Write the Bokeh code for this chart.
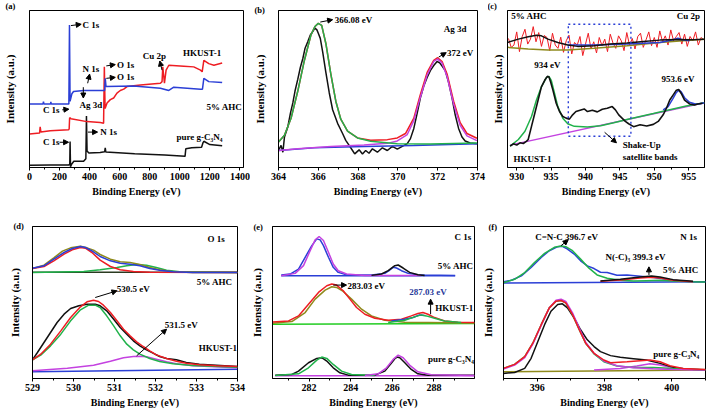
from bokeh.plotting import figure
from bokeh.layouts import row, column
from bokeh.models import FixedTicker, Arrow, NormalHead, Label
from bokeh.embed import file_html
from bokeh.resources import INLINE

FONT = "Liberation Serif"
RED = "#ee1d23"
BLUE = "#2b3fd6"
GREEN = "#21b24b"
MAGENTA = "#c442e0"
OLIVE = "#8f8a1c"
BLACK = "#111111"
LW = 1.5

# ---------------- (a) survey ----------------
A_TICKS = [0, 200, 400, 600, 800, 1000, 1200, 1400]
A_MINOR = [100, 300, 500, 700, 900, 1100, 1300]
A_G_X = [0, 138, 262, 268, 270, 273, 280, 295, 360, 375, 379, 383, 395, 470, 500, 504, 508, 700, 900, 1035, 1040, 1080, 1145, 1155, 1160, 1200, 1282]
A_G_Y = [7, 8, 8, 10, 79, 2, 10, 19, 19, 27, 157, 50, 44, 46, 48, 60, 47, 42, 38, 34, 57, 60, 62, 76, 80, 70, 66]
A_A_X = [0, 90, 93, 96, 140, 142, 145, 262, 266, 270, 282, 293, 360, 500, 504, 509, 693, 871, 927, 960, 1138, 1151, 1160, 1193, 1282]
A_A_Y = [194, 194, 201, 194, 194, 200, 194, 194, 435, 202, 225, 232, 235, 235, 272, 247, 249, 242, 235, 245, 239, 239, 272, 262, 259]
A_H_X = [0, 67, 71, 76, 138, 260, 264, 267, 276, 382, 471, 493, 498, 503, 516, 538, 560, 582, 604, 627, 649, 738, 871, 882, 887, 898, 909, 927, 1027, 1093, 1138, 1149, 1160, 1193, 1227, 1282]
A_H_Y = [102, 105, 124, 108, 112, 115, 118, 152, 149, 140, 137, 135, 307, 180, 197, 207, 212, 227, 235, 239, 247, 252, 257, 262, 307, 257, 297, 312, 309, 307, 297, 292, 327, 317, 312, 319]

# ---------------- (b) Ag 3d ----------------
B_TICKS = [364, 366, 368, 370, 372, 374]
B_MINOR = [365, 367, 369, 371, 373]
B_D_X = [364.00, 364.13, 364.22, 364.30, 364.47, 364.60, 364.72, 364.83, 364.97, 365.10, 365.22, 365.33, 365.47, 365.60, 365.72, 365.83, 365.93, 366.00, 366.10, 366.22, 366.38, 366.55, 366.72, 366.97, 367.22, 367.38, 367.55, 367.72, 367.83, 368.05, 368.22, 368.38, 368.55, 368.72, 368.97, 369.22, 369.47, 369.72, 369.97, 370.22, 370.47, 370.63, 370.80, 370.97, 371.13, 371.30, 371.47, 371.63, 371.80, 371.97, 372.10, 372.23, 372.38, 372.55, 372.72, 372.88, 373.05, 373.22, 373.38, 373.63, 373.97]
B_D_Y = [50, 65, 45, 90, 120, 160, 190, 225, 260, 295, 320, 350, 370, 390, 400, 410, 405, 395, 380, 340, 280, 220, 170, 130, 100, 80, 65, 50, 40, 52, 40, 50, 42, 55, 45, 58, 50, 62, 54, 62, 70, 85, 115, 160, 205, 240, 265, 285, 300, 312, 308, 298, 285, 250, 205, 155, 115, 90, 78, 72, 70]
B_G_X = [364.00, 364.30, 364.63, 364.97, 365.30, 365.63, 365.83, 366.00, 366.17, 366.38, 366.63, 366.88, 367.13, 367.47, 367.97, 368.63, 369.97, 371.63, 373.97]
B_G_Y = [75, 95, 145, 225, 315, 390, 415, 424, 418, 365, 275, 195, 142, 107, 87, 77, 70, 69, 72]
B_R_X = [364.00, 364.30, 364.63, 364.97, 365.30, 365.63, 365.83, 366.00, 366.17, 366.38, 366.63, 366.88, 367.13, 367.47, 367.97, 368.63, 369.47, 369.97, 370.38, 370.80, 371.13, 371.47, 371.80, 372.00, 372.22, 372.47, 372.80, 373.13, 373.47, 373.97]
B_R_Y = [75, 95, 145, 225, 315, 390, 415, 424, 418, 365, 275, 195, 142, 107, 87, 80, 82, 87, 100, 145, 215, 280, 315, 323, 312, 275, 195, 132, 100, 86]
B_M_X = [364.00, 364.97, 366.63, 368.30, 369.47, 369.97, 370.47, 370.80, 371.13, 371.47, 371.80, 372.00, 372.22, 372.47, 372.80, 373.13, 373.47, 373.97]
B_M_Y = [50, 55, 62, 66, 71, 78, 97, 138, 207, 272, 312, 319, 307, 268, 187, 124, 93, 79]
B_B_X = [364.0, 365.8, 368.3, 370.8, 374.0]
B_B_Y = [50, 58, 62, 65, 70]

# ---------------- (c) Cu 2p ----------------
C_TICKS = [930, 935, 940, 945, 950, 955]
C_MINOR = [932.5, 937.5, 942.5, 947.5, 952.5]
C_A_X = [928.8, 929.2, 929.6, 930.0, 930.4, 930.8, 931.2, 931.6, 932.0, 932.4, 932.8, 933.2, 933.6, 934.0, 934.4, 934.8, 935.2, 935.6, 936.0, 936.4, 936.8, 937.2, 937.6, 938.0, 938.4, 938.8, 939.2, 939.6, 940.0, 940.4, 940.8, 941.2, 941.6, 942.0, 942.4, 942.8, 943.2, 943.6, 944.0, 944.4, 944.8, 945.2, 945.6, 946.0, 946.4, 946.8, 947.2, 947.6, 948.0, 948.4, 948.8, 949.2, 949.6, 950.0, 950.4, 950.8, 951.2, 951.6, 952.0, 952.4, 952.8, 953.2, 953.6, 954.0, 954.4, 954.8, 955.2, 955.6, 956.0, 956.4, 956.8, 957.2]
C_A_Y = [392, 365, 372, 412, 352, 398, 420, 375, 390, 428, 382, 410, 368, 401, 395, 355, 408, 372, 362, 396, 350, 385, 402, 345, 380, 372, 398, 340, 375, 408, 360, 382, 348, 395, 370, 390, 352, 405, 378, 362, 400, 385, 355, 410, 372, 392, 360, 398, 408, 365, 388, 412, 370, 395, 365, 415, 382, 400, 372, 418, 385, 398, 410, 375, 405, 368, 398, 385, 412, 372, 395, 388]
C_AF_X = [928.66, 930.24, 931.67, 932.87, 933.59, 934.55, 935.98, 937.42, 938.85, 941.24, 943.64, 946.03, 948.42, 950.81, 953.21, 955.60, 957.27]
C_AF_Y = [380, 390, 397, 402, 400, 390, 380, 372, 368, 370, 375, 378, 383, 387, 389, 388, 390]
C_AB_X = [937.42, 941.24, 946.03, 950.81, 952.73, 953.44, 954.07, 955.12]
C_AB_Y = [372, 372, 375, 380, 388, 393, 388, 385]
C_AO_X = [928.66, 931.67, 934.55, 937.42, 941.24, 946.03, 950.81, 955.60, 957.27]
C_AO_Y = [365, 360, 357, 357, 362, 370, 380, 387, 390]
C_H_X = [929.04, 929.52, 930.00, 930.48, 930.96, 931.44, 931.67, 932.15, 932.63, 933.11, 933.59, 934.07, 934.45, 934.69, 934.93, 935.26, 935.74, 936.22, 936.70, 937.18, 937.66, 938.13, 938.61, 939.33, 939.81, 940.29, 941.00, 941.72, 942.44, 943.16, 943.88, 944.35, 944.83, 945.31, 945.79, 946.27, 946.99, 947.94, 948.90, 949.86, 950.57, 951.29, 951.77, 952.25, 952.73, 953.21, 953.54, 953.92, 954.40, 955.12, 955.84, 956.32, 957.03]
C_H_Y = [65, 72, 68, 75, 73, 80, 85, 125, 165, 205, 245, 265, 277, 275, 260, 235, 195, 170, 155, 150, 147, 160, 170, 175, 178, 170, 174, 169, 177, 180, 185, 175, 160, 150, 140, 133, 124, 130, 126, 131, 140, 160, 180, 205, 220, 235, 237, 225, 205, 193, 190, 193, 195]
C_HG_X = [929.04, 930.24, 931.20, 932.15, 932.87, 933.59, 934.31, 934.69, 935.02, 935.50, 935.98, 936.70, 937.42, 938.37, 940.29, 942.20, 944.11, 946.03, 947.94, 949.86, 951.29, 952.73, 954.64, 957.27]
C_HG_Y = [65, 85, 110, 155, 205, 245, 273, 277, 265, 225, 185, 150, 133, 125, 123, 127, 136, 146, 155, 164, 171, 178, 187, 197]
C_HM_X = [929.04, 957.27]
C_HM_Y = [68, 197]
C_HB_X = [951.29, 952.01, 952.73, 953.21, 953.59, 953.92, 954.40, 955.12, 956.08, 957.27]
C_HB_Y = [175, 185, 210, 228, 235, 230, 212, 198, 192, 196]

# ---------------- (d) O 1s ----------------
D_TICKS = [529, 530, 531, 532, 533, 534]
D_MINOR = [529.5, 530.5, 531.5, 532.5, 533.5]
D_AB_X = [529.00, 529.28, 529.52, 529.77, 529.97, 530.17, 530.29, 530.45, 530.65, 530.90, 531.14, 531.38, 531.62, 531.86, 532.10, 532.43, 532.91, 534.00]
D_AB_Y = [331, 338, 358, 378, 390, 396, 393, 383, 366, 353, 346, 343, 338, 330, 325, 320, 318, 318]
D_AD_X = [529.00, 529.28, 529.52, 529.73, 529.93, 530.17, 530.33, 530.49, 530.65, 530.90, 531.14, 531.38, 531.62, 531.86, 532.10, 532.43, 532.91, 534.00]
D_AD_Y = [330, 340, 362, 382, 392, 397, 392, 385, 372, 358, 350, 348, 342, 333, 326, 320, 318, 318]
D_AR_X = [529.00, 529.28, 529.52, 529.77, 529.97, 530.17, 530.29, 530.45, 530.65, 530.90, 531.14, 531.46, 531.86, 534.00]
D_AR_Y = [330, 336, 353, 373, 386, 393, 391, 378, 355, 336, 326, 321, 319, 318]
D_AG_X = [529.00, 530.25, 530.65, 531.06, 531.30, 531.54, 531.78, 532.02, 532.27, 532.59, 534.00]
D_AG_Y = [318, 321, 326, 333, 338, 342, 340, 333, 325, 320, 318]
D_AK_X = [529.0, 534.0]
D_AK_Y = [319, 319]
D_H_X = [529.00, 529.12, 529.28, 529.44, 529.60, 529.77, 529.93, 530.13, 530.33, 530.53, 530.65, 530.81, 530.98, 531.14, 531.30, 531.46, 531.62, 531.78, 531.94, 532.10, 532.27, 532.51, 532.75, 533.07, 533.48, 534.00]
D_H_Y = [56, 78, 108, 138, 168, 193, 210, 218, 223, 223, 218, 203, 178, 153, 133, 113, 98, 86, 76, 66, 60, 56, 48, 43, 40, 36]
D_HR_X = [529.00, 529.20, 529.44, 529.69, 529.93, 530.17, 530.33, 530.49, 530.61, 530.73, 530.90, 531.06, 531.22, 531.38, 531.54, 531.70, 531.86, 532.02, 532.27, 532.51, 532.75, 533.07, 533.48, 534.00]
D_HR_Y = [56, 73, 103, 143, 183, 215, 230, 235, 231, 220, 198, 173, 148, 128, 110, 96, 83, 71, 60, 52, 46, 41, 38, 36]
D_HG_X = [529.00, 529.20, 529.44, 529.69, 529.93, 530.17, 530.37, 530.53, 530.65, 530.81, 530.98, 531.14, 531.30, 531.46, 531.62, 531.86, 532.10, 532.43, 532.91, 534.00]
D_HG_Y = [56, 70, 98, 133, 173, 206, 220, 220, 213, 188, 158, 128, 103, 86, 73, 60, 51, 44, 39, 34]
D_HM_X = [529.00, 529.85, 530.49, 530.90, 531.22, 531.46, 531.62, 531.78, 532.02, 532.27, 532.51, 532.91, 534.00]
D_HM_Y = [23, 31, 40, 52, 62, 66, 67, 65, 58, 50, 44, 38, 32]
D_HB_X = [529.0, 534.0]
D_HB_Y = [20, 28]

# ---------------- (e) C 1s ----------------
E_TICKS = [282, 284, 286, 288]
E_MINOR = [281, 283, 285, 287, 289]
E_AB_X = [280.66, 281.09, 281.49, 281.81, 282.13, 282.37, 282.53, 282.69, 282.93, 283.16, 283.40, 283.80, 285.00, 285.64, 285.88, 286.04, 286.20, 286.44, 286.76, 287.23, 287.55, 289.02]
E_AB_Y = [309, 312, 327, 362, 397, 417, 414, 397, 362, 332, 317, 310, 309, 314, 324, 332, 330, 322, 314, 310, 309, 308]
E_AM_X = [280.66, 281.33, 281.73, 282.05, 282.29, 282.48, 282.69, 282.93, 283.16, 283.40, 283.80, 284.68, 287.39]
E_AM_Y = [307, 314, 337, 382, 414, 424, 412, 377, 342, 322, 312, 308, 308]
E_AK_X = [285.00, 285.48, 285.80, 286.12, 286.28, 286.52, 286.83, 287.23, 287.55]
E_AK_Y = [308, 312, 322, 337, 339, 330, 317, 310, 308]
E_A0_X = [280.66, 289.02]
E_A0_Y = [307, 307]
E_HR_X = [280.24, 281.01, 281.49, 281.97, 282.45, 282.85, 283.09, 283.32, 283.64, 283.96, 284.28, 284.68, 285.16, 285.80, 286.44, 286.91, 287.23, 287.47, 287.71, 288.03, 288.51, 289.15, 289.95]
E_HR_Y = [169, 172, 187, 222, 257, 277, 282, 279, 262, 237, 212, 192, 180, 174, 177, 187, 194, 197, 192, 182, 172, 168, 167]
E_HO_X = [280.24, 281.17, 281.81, 282.29, 282.77, 283.09, 283.32, 283.64, 284.04, 284.52, 285.00, 285.64, 286.60, 289.95]
E_HO_Y = [165, 170, 197, 237, 264, 274, 272, 260, 237, 207, 187, 174, 168, 166]
E_H0_X = [280.24, 289.95]
E_H0_Y = [162, 164]
E_HB_X = [285.96, 286.60, 287.00, 287.31, 287.55]
E_HB_Y = [172, 177, 182, 190, 188]
E_HG_X = [285.80, 286.60, 287.07, 287.39, 287.63, 288.03, 288.51, 289.31]
E_HG_Y = [167, 174, 184, 190, 187, 180, 172, 167]
E_PK_X = [280.37, 281.17, 281.49, 281.97, 282.37, 282.61, 282.85, 283.16, 283.48, 283.88, 285.16, 285.64, 285.93, 286.12, 286.23, 286.36, 286.60, 286.91, 287.23, 287.71, 289.95]
E_PK_Y = [10, 12, 22, 47, 60, 62, 52, 32, 17, 10, 10, 22, 44, 59, 64, 62, 47, 27, 14, 10, 10]
E_PG_X = [280.37, 281.49, 281.97, 282.37, 282.61, 282.85, 283.16, 283.56, 284.04, 285.16]
E_PG_Y = [9, 14, 32, 55, 64, 60, 42, 22, 12, 9]
E_PM_X = [284.68, 285.32, 285.72, 286.04, 286.28, 286.52, 286.83, 287.23, 287.87, 289.95]
E_PM_Y = [9, 14, 32, 57, 70, 62, 40, 20, 11, 9]
E_P0_X = [280.37, 289.95]
E_P0_Y = [8, 8]

# ---------------- (f) N 1s ----------------
F_TICKS = [396, 398, 400]
F_MINOR = [395, 397, 399, 401]
F_AB_X = [395.00, 395.24, 395.53, 395.82, 396.12, 396.36, 396.61, 396.75, 396.90, 397.10, 397.29, 397.49, 397.69, 397.88, 398.08, 398.37, 398.67, 399.06, 399.45, 399.84, 400.24, 400.63, 401.00]
F_AB_Y = [288, 292, 305, 330, 360, 380, 392, 393, 385, 370, 350, 335, 327, 316, 315, 307, 308, 304, 300, 295, 290, 288, 288]
F_AG_X = [395.00, 395.33, 395.63, 395.92, 396.22, 396.51, 396.71, 396.85, 397.05, 397.29, 397.54, 397.78, 398.08, 398.47, 398.86, 399.25, 399.65, 400.04, 400.63, 401.00]
F_AG_Y = [285, 295, 315, 345, 372, 390, 394, 392, 380, 355, 328, 308, 298, 292, 290, 291, 292, 290, 288, 287]
F_AK_X = [397.88, 398.47, 399.06, 399.40, 399.65, 400.04, 400.63]
F_AK_Y = [290, 295, 302, 305, 302, 294, 289]
F_AR_Y = [289, 293, 299, 301, 299, 292, 288]
F_A0_X = [395.0, 401.0]
F_A0_Y = [284, 288]
F_PK_X = [395.00, 395.33, 395.63, 395.82, 396.02, 396.22, 396.41, 396.61, 396.75, 396.90, 397.10, 397.29, 397.49, 397.69, 397.88, 398.18, 398.47, 398.86, 399.25, 399.65, 400.04, 400.43, 401.00]
F_PK_Y = [15, 18, 30, 60, 110, 160, 200, 220, 222, 210, 180, 145, 115, 95, 80, 68, 63, 59, 55, 45, 33, 28, 25]
F_PG_X = [395.00, 395.33, 395.63, 395.87, 396.12, 396.36, 396.56, 396.71, 396.85, 397.05, 397.25, 397.44, 397.69, 397.98, 398.37, 398.86, 399.45, 400.04, 401.00]
F_PG_Y = [30, 42, 65, 105, 160, 210, 230, 232, 225, 190, 145, 105, 73, 50, 37, 33, 33, 30, 26]
F_PM_Y = [28, 40, 62, 102, 158, 210, 233, 236, 229, 195, 150, 108, 75, 52, 38, 32, 29, 27, 25]
F_PR_X = [395.00, 395.33, 395.63, 395.87, 396.12, 396.36, 396.56, 396.71, 396.85, 397.05, 397.25, 397.44, 397.69, 397.98, 398.18, 398.67, 399.06, 399.35, 399.65, 399.94, 400.33, 401.00]
F_PR_Y = [30, 42, 65, 105, 160, 210, 230, 232, 225, 190, 145, 105, 75, 55, 47, 50, 53, 55, 50, 38, 30, 27]
F_PM2_X = [397.69, 398.47, 398.96, 399.35, 399.65, 400.04, 400.63]
F_PM2_Y = [25, 30, 37, 44, 40, 32, 26]
F_P0_X = [395.0, 401.0]
F_P0_Y = [20, 25]


def make_fig(w, h, xr, yr, ticks, minor, bl, br, bt, bb, ystand):
    p = figure(width=w, height=h, x_range=xr, y_range=yr, output_backend="svg",
               toolbar_location=None, min_border_left=bl, min_border_right=br,
               min_border_top=bt, min_border_bottom=bb)
    p.grid.visible = False
    p.background_fill_color = "white"
    p.border_fill_color = "white"
    p.outline_line_color = "black"
    p.outline_line_alpha = 1.0
    p.outline_line_width = 1
    xa = p.xaxis[0]
    xa.ticker = FixedTicker(ticks=ticks, minor_ticks=minor)
    xa.axis_label = "Binding Energy (eV)"
    xa.axis_label_text_font = FONT
    xa.axis_label_text_font_style = "bold"
    xa.axis_label_text_font_size = "10px"
    xa.axis_label_text_color = "black"
    xa.axis_label_standoff = 3
    xa.major_label_text_font = FONT
    xa.major_label_text_font_style = "bold"
    xa.major_label_text_font_size = "10px"
    xa.major_label_text_color = "black"
    xa.major_label_standoff = 2
    xa.major_tick_in = 0
    xa.major_tick_out = 3
    xa.minor_tick_in = 0
    xa.minor_tick_out = 2
    xa.axis_line_color = "black"
    ya = p.yaxis[0]
    ya.ticker = FixedTicker(ticks=[])
    ya.axis_label = "Intensity (a.u.)"
    ya.axis_label_text_font = FONT
    ya.axis_label_text_font_style = "bold"
    ya.axis_label_text_font_size = "11px"
    ya.axis_label_text_color = "black"
    ya.axis_label_standoff = ystand
    ya.major_tick_in = 0
    ya.major_tick_out = 0
    ya.minor_tick_in = 0
    ya.minor_tick_out = 0
    ya.major_label_standoff = 0
    ya.axis_line_color = "black"
    return p


def ln(p, xs, ys, color, w=LW):
    p.line(xs, ys, line_color=color, line_width=w)


def txt(p, x, y, s, align="left", color="black", size="9px"):
    p.add_layout(Label(x=x, y=y, text=s, text_align=align, text_baseline="middle",
                       text_font=FONT, text_font_style="bold", text_font_size=size,
                       text_color=color))


def panel_label(p, s, dx, dy=0):
    # label placed in the "above" side panel so it is not clipped to the frame
    p.add_layout(Label(x=dx, y=dy, x_units="screen", y_units="screen", text=s,
                       text_align="left", text_baseline="middle",
                       text_font=FONT, text_font_style="bold", text_font_size="8.5px",
                       text_color="black"), "above")


def arr(p, x0, y0, x1, y1):
    p.add_layout(Arrow(end=NormalHead(size=5, fill_color="black", line_color="black", line_width=1),
                       x_start=x0, y_start=y0, x_end=x1, y_end=y1,
                       line_color="black", line_width=1))


# ---- (a)
pa = make_fig(250, 205, (0, 1424), (0, 479), A_TICKS, A_MINOR, 29, 7, 4, 38, 14)
ln(pa, A_G_X, A_G_Y, BLACK)
ln(pa, A_H_X, A_H_Y, RED)
ln(pa, A_A_X, A_A_Y, BLUE)
panel_label(pa, "(a)", -24, 5)
txt(pa, 353, 435, "C 1s")
arr(pa, 276, 433, 344, 437)
txt(pa, 409, 299, "N 1s", align="center")
arr(pa, 387, 257, 400, 285)
txt(pa, 409, 192, "Ag 3d", align="center")
arr(pa, 358, 245, 358, 212)
txt(pa, 582, 314, "O 1s")
arr(pa, 511, 310, 571, 314)
txt(pa, 582, 275, "O 1s")
arr(pa, 511, 272, 571, 275)
txt(pa, 831, 339, "Cu 2p", align="center")
arr(pa, 882, 297, 867, 325)
txt(pa, 1149, 349, "HKUST-1", align="center")
txt(pa, 1415, 185, "5% AHC", align="right")
txt(pa, 89, 175, "C 1s")
arr(pa, 218, 176, 262, 178)
txt(pa, 471, 107, "N 1s")
arr(pa, 389, 108, 453, 108)
txt(pa, 89, 77, "C 1s")
arr(pa, 200, 77, 260, 77)
txt(pa, 1131, 92, "pure g-C\u2083N\u2084", align="center")

# ---- (b)
pb = make_fig(238, 205, (364, 374), (0, 462), B_TICKS, B_MINOR, 27, 11, 4, 38, 13)
ln(pb, B_D_X, B_D_Y, BLACK)
ln(pb, B_B_X, B_B_Y, BLUE)
ln(pb, B_R_X, B_R_Y, RED)
ln(pb, B_M_X, B_M_Y, MAGENTA)
ln(pb, B_G_X, B_G_Y, GREEN)
panel_label(pb, "(b)", -24, 1)
txt(pb, 366.83, 435, "366.08 eV")
arr(pb, 366.10, 428, 366.72, 435)
txt(pb, 372.88, 408, "Ag 3d", align="center")
txt(pb, 372.47, 338, "372 eV")
arr(pb, 372.05, 325, 372.43, 338)

# ---- (c)
pc = make_fig(220, 205, (928.66, 957.3), (0, 477), C_TICKS, C_MINOR, 18, 4, 4, 38, 4)
ln(pc, C_A_X, C_A_Y, RED, 1.0)
ln(pc, C_AO_X, C_AO_Y, OLIVE)
ln(pc, C_AB_X, C_AB_Y, BLUE)
ln(pc, C_AF_X, C_AF_Y, BLACK)
ln(pc, C_HM_X, C_HM_Y, MAGENTA)
ln(pc, C_HG_X, C_HG_Y, GREEN)
ln(pc, C_HB_X, C_HB_Y, BLUE)
ln(pc, C_H_X, C_H_Y, BLACK, 1.6)
pc.quad(left=[937.5], right=[946.6], bottom=[95], top=[435], fill_alpha=0,
        line_color="#2b3fd6", line_width=1.4, line_dash="2 3")
panel_label(pc, "(c)", -20, 5)
txt(pc, 929.19, 460, "5% AHC")
txt(pc, 956.65, 460, "Cu 2p", align="right")
txt(pc, 934.45, 310, "934 eV", align="center")
txt(pc, 953.44, 268, "953.6 eV", align="center")
txt(pc, 929.52, 27, "HKUST-1")
txt(pc, 945.41, 68, "Shake-Up")
txt(pc, 945.41, 33, "satellite bands")
arr(pc, 942.78, 107, 944.5, 75)

# ---- (d)
pd_ = make_fig(247, 205, (529, 534), (0, 456), D_TICKS, D_MINOR, 32, 10, 21, 32, 12)
ln(pd_, D_AK_X, D_AK_Y, "#2a3a20")
ln(pd_, D_AG_X, D_AG_Y, GREEN)
ln(pd_, D_AD_X, D_AD_Y, OLIVE)
ln(pd_, D_AR_X, D_AR_Y, RED)
ln(pd_, D_AB_X, D_AB_Y, BLUE)
ln(pd_, D_HB_X, D_HB_Y, BLUE)
ln(pd_, D_HM_X, D_HM_Y, MAGENTA)
ln(pd_, D_H_X, D_H_Y, BLACK)
ln(pd_, D_HG_X, D_HG_Y, GREEN)
ln(pd_, D_HR_X, D_HR_Y, RED)
panel_label(pd_, "(d)", -19, 1)
txt(pd_, 533.48, 418, "O 1s", align="center")
txt(pd_, 533.44, 290, "5% AHC", align="center")
txt(pd_, 531.46, 268, "530.5 eV", align="center")
arr(pd_, 530.53, 243, 531.06, 263)
txt(pd_, 532.63, 161, "531.5 eV", align="center")
arr(pd_, 531.54, 68, 532.27, 148)
txt(pd_, 533.52, 93, "HKUST-1", align="center")

# ---- (e)
pe = make_fig(231, 205, (280.24, 289.95), (0, 454), E_TICKS, E_MINOR, 24, 4, 21, 32, 10)
ln(pe, E_A0_X, E_A0_Y, BLUE)
ln(pe, E_AB_X, E_AB_Y, BLUE)
ln(pe, E_AM_X, E_AM_Y, MAGENTA)
ln(pe, E_AK_X, E_AK_Y, BLACK)
ln(pe, E_H0_X, E_H0_Y, "#22cc22")
ln(pe, E_HO_X, E_HO_Y, OLIVE)
ln(pe, E_HR_X, E_HR_Y, RED)
ln(pe, E_HB_X, E_HB_Y, BLUE)
ln(pe, E_HG_X, E_HG_Y, GREEN)
ln(pe, E_P0_X, E_P0_Y, MAGENTA)
ln(pe, E_PK_X, E_PK_Y, BLACK)
ln(pe, E_PG_X, E_PG_Y, GREEN)
ln(pe, E_PM_X, E_PM_Y, MAGENTA)
panel_label(pe, "(e)", -19, 0)
txt(pe, 289.79, 422, "C 1s", align="right")
txt(pe, 289.9, 337, "5% AHC", align="right")
txt(pe, 283.85, 277, "283.03 eV")
arr(pe, 283.16, 279, 283.80, 279)
txt(pe, 287.71, 257, "287.03 eV", align="center", color="#2a3a9a")
arr(pe, 287.84, 192, 287.84, 237)
txt(pe, 288.06, 210, "HKUST-1")
txt(pe, 287.71, 57, "pure g-C\u2083N\u2084")

# ---- (f)
pf = make_fig(230, 205, (395, 401), (0, 452), F_TICKS, F_MINOR, 24, 3, 21, 32, 10)
ln(pf, F_A0_X, F_A0_Y, BLUE)
ln(pf, F_AB_X, F_AB_Y, BLUE)
ln(pf, F_AG_X, F_AG_Y, GREEN)
ln(pf, F_AK_X, F_AR_Y, RED)
ln(pf, F_AK_X, F_AK_Y, BLACK)
ln(pf, F_P0_X, F_P0_Y, OLIVE)
ln(pf, F_PM2_X, F_PM2_Y, MAGENTA)
ln(pf, F_PK_X, F_PK_Y, BLACK)
ln(pf, F_PG_X, F_PG_Y, GREEN)
ln(pf, F_PG_X, F_PM_Y, MAGENTA)
ln(pf, F_PR_X, F_PR_Y, RED)
panel_label(pf, "(f)", -15, 0)
txt(pf, 395.94, 420, "C=N-C  396.7 eV")
arr(pf, 396.71, 395, 396.92, 412)
txt(pf, 400.75, 420, "N 1s", align="right")
txt(pf, 398.03, 360, "N(-C)\u2083 399.3 eV")
arr(pf, 399.32, 308, 399.32, 332)
txt(pf, 400.8, 322, "5% AHC", align="right")
txt(pf, 399.45, 72, "pure g-C\u2083N\u2084")

layout = column(row(pa, pb, pc), row(pd_, pe, pf))
open("out.html", "w").write(file_html(layout, INLINE, "XPS"))
